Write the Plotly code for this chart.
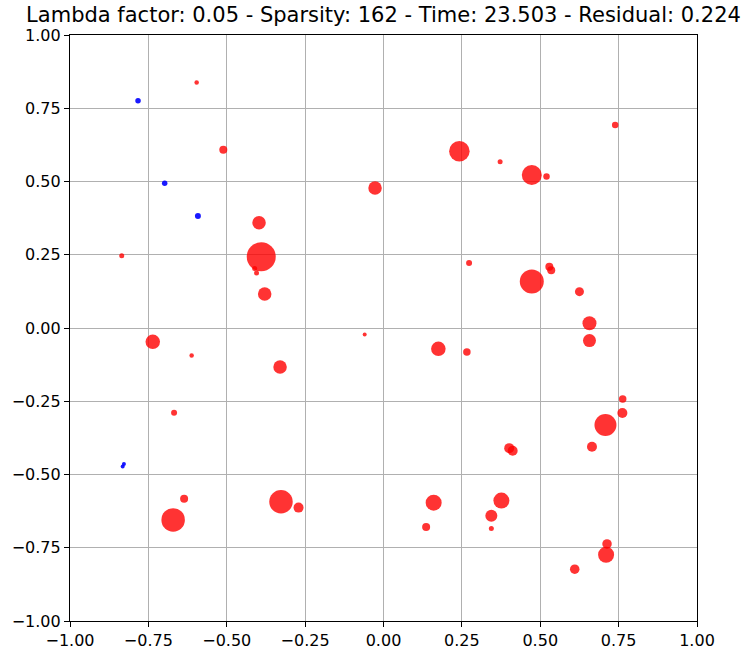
import plotly.graph_objects as go

# Red atoms (positive weights): x, y, marker diameter (px)
red_x = [-0.596, -0.511, -0.027, -0.397, -0.390, -0.411, -0.405, -0.379, -0.835,
         0.242, 0.372, 0.473, 0.520, 0.739, 0.273, 0.473, 0.529, 0.535, 0.625, 0.657,
         -0.736, -0.612, -0.330, -0.060, -0.668, -0.636, -0.671, -0.327, -0.271,
         0.175, 0.266, 0.657, 0.763, 0.762, 0.708, 0.665, 0.401, 0.412,
         0.160, 0.136, 0.376, 0.344, 0.344, 0.713, 0.710, 0.610]
red_y = [0.838, 0.608, 0.478, 0.359, 0.243, 0.203, 0.188, 0.116, 0.247,
         0.603, 0.567, 0.522, 0.517, 0.693, 0.222, 0.159, 0.209, 0.197, 0.124, 0.016,
         -0.047, -0.094, -0.133, -0.022, -0.289, -0.583, -0.655, -0.593, -0.613,
         -0.071, -0.082, -0.043, -0.242, -0.290, -0.331, -0.405, -0.410, -0.419,
         -0.596, -0.679, -0.589, -0.641, -0.684, -0.737, -0.774, -0.823]
red_size = [4.5, 8, 13.5, 13.5, 29, 5, 5, 13.5, 5,
            20.5, 5, 20, 6.5, 6.5, 6, 24, 8, 8, 9, 14,
            14.5, 4.5, 13.5, 4, 6, 8, 23.5, 23.5, 10,
            14.5, 7.5, 13, 7.5, 10, 22, 10, 10, 10,
            16, 8, 16, 12, 5, 9.5, 16, 9.5]

# Blue atoms (negative weights)
blue_x = [-0.783, -0.698, -0.592, -0.828, -0.832]
blue_y = [0.776, 0.494, 0.382, -0.464, -0.473]
blue_size = [5.5, 5.5, 6, 4, 4]

title_text = "Lambda factor: 0.05 - Sparsity: 162 - Time: 23.503 - Residual: 0.224"
tick_vals = [-1.0, -0.75, -0.5, -0.25, 0.0, 0.25, 0.5, 0.75, 1.0]

fig = go.Figure()
fig.add_trace(go.Scatter(
    x=red_x, y=red_y, mode="markers",
    marker=dict(size=red_size, color="rgb(255,0,0)", opacity=0.8, line=dict(width=0)),
    showlegend=False, hoverinfo="x+y"))
fig.add_trace(go.Scatter(
    x=blue_x, y=blue_y, mode="markers",
    marker=dict(size=blue_size, color="rgb(0,0,255)", opacity=0.9, line=dict(width=0)),
    showlegend=False, hoverinfo="x+y"))

axis_common = dict(
    range=[-1, 1], tickvals=tick_vals, tickformat=".2f", automargin=False,
    showgrid=True, gridcolor="#b0b0b0", gridwidth=1,
    zeroline=False, showline=True, linecolor="black", linewidth=1.2, mirror=True,
    ticks="outside", ticklen=5, tickwidth=1.2, tickcolor="black",
    tickfont=dict(family="DejaVu Sans", size=16, color="black"),
)

fig.update_layout(
    width=745, height=650,
    margin=dict(l=70, r=48, t=35, b=29),
    paper_bgcolor="white", plot_bgcolor="white",
    title=dict(text=title_text, x=0.5, xref="paper", xanchor="center",
               y=1, yref="container", yanchor="top", pad=dict(t=7),
               font=dict(family="DejaVu Sans", size=21, color="black"),
               automargin=False),
    xaxis=axis_common,
    yaxis=axis_common,
)

fig.write_html("out.html")
